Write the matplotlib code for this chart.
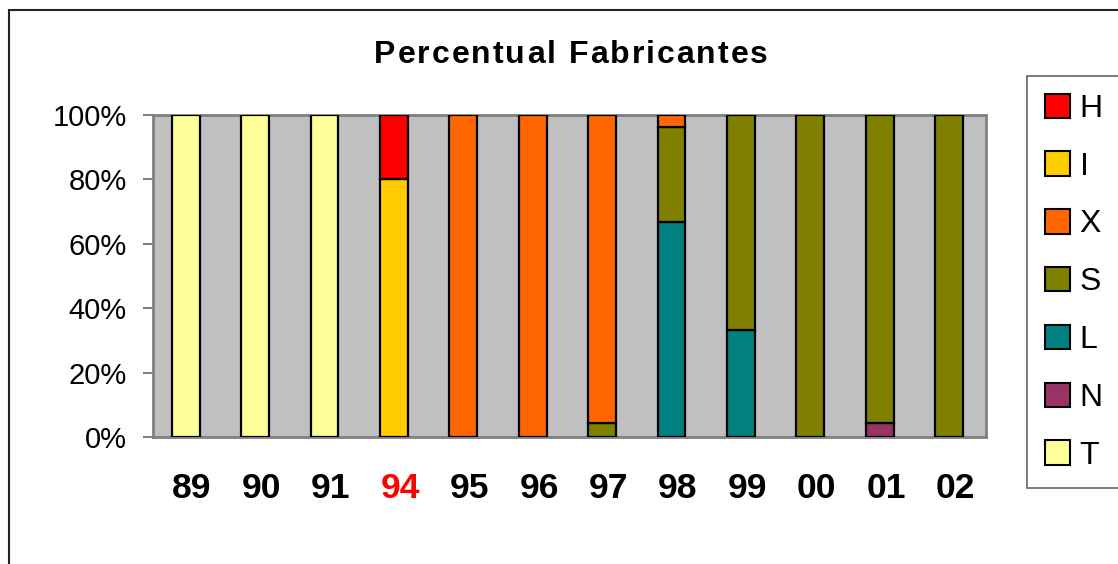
import numpy as np
import matplotlib.pyplot as plt
from matplotlib.patches import Rectangle, Patch

plt.rcParams['font.family'] = ['Liberation Sans', 'DejaVu Sans']

anos = ["89", "90", "91", "94", "95", "96", "97", "98", "99", "00", "01", "02"]

# percent share per maker, stacked bottom to top: T, N, L, S, X, I, H
T = [100, 100, 100, 0, 0, 0, 0, 0, 0, 0, 0, 0]
N = [0, 0, 0, 0, 0, 0, 0, 0, 0, 0, 4.5, 0]
L = [0, 0, 0, 0, 0, 0, 0, 66.7, 33.3, 0, 0, 0]
S = [0, 0, 0, 0, 0, 0, 4.5, 29.6, 66.7, 100, 95.5, 100]
X = [0, 0, 0, 0, 100, 100, 95.5, 3.7, 0, 0, 0, 0]
I = [0, 0, 0, 80, 0, 0, 0, 0, 0, 0, 0, 0]
H = [0, 0, 0, 20, 0, 0, 0, 0, 0, 0, 0, 0]

series = [("T", T, "#FFFF99"), ("N", N, "#993366"), ("L", L, "#008080"),
          ("S", S, "#808000"), ("X", X, "#FF6600"), ("I", I, "#FFCC00"),
          ("H", H, "#FF0000")]

titulo = "Percentual Fabricantes"

W, Hpx = 1118, 564
fig = plt.figure(figsize=(W / 100, Hpx / 100), dpi=100)

# outer chart frame
fig.patches.append(Rectangle((9 / W, -0.1), 1.2, 1 - 10 / Hpx + 0.1,
                             transform=fig.transFigure, fill=False,
                             edgecolor="#222222", linewidth=1.5))

ax = fig.add_axes([153 / W, (Hpx - 437) / Hpx, (986 - 153) / W, (437 - 115) / Hpx])
ax.set_facecolor("#C0C0C0")

x = np.arange(len(anos))
bottom = np.zeros(len(anos))
handles = []
for nome, vals, cor in series:
    vals = np.array(vals, dtype=float)
    mask = vals > 0
    ax.bar(x[mask], vals[mask], width=0.4, bottom=bottom[mask], color=cor,
           edgecolor="black", linewidth=1.6, zorder=3)
    bottom += vals
    handles.append(Patch(facecolor=cor, edgecolor="black", linewidth=1.5, label=nome))

ax.set_xlim(-0.47, len(anos) - 0.47)
ax.set_ylim(0, 100)
ax.set_yticks(range(0, 101, 20))
ax.set_yticklabels([f"{v}%" for v in range(0, 101, 20)], fontsize=21)
# category labels sit a little right of the bar centres
ax.set_xticks(x + 0.09)
ax.set_xticklabels(anos, fontsize=25.5, fontweight="bold")
ax.get_xticklabels()[3].set_color("#FF0000")
ax.tick_params(axis="x", length=0, pad=25)
ax.tick_params(axis="y", length=7, width=1.5, color="#808080", pad=12)
for sp in ax.spines.values():
    sp.set_color("#808080")
    sp.set_linewidth(2)

# title drawn letter by letter with extra tracking
renderer = fig.canvas.get_renderer()
fs_tit = 23
track = 2.0

def largura(s):
    t = fig.text(0, 0, s, fontsize=fs_tit, fontweight="bold")
    w = t.get_window_extent(renderer).width
    t.remove()
    return w

total = largura(titulo) + track * (len(titulo) - 1)
x0 = 571 - total / 2
for i, ch in enumerate(titulo):
    if ch == " ":
        continue
    esq = x0 + largura(titulo[:i + 1]) - largura(ch) + track * i
    fig.text(esq / W, 1 - 63 / Hpx, ch, fontsize=fs_tit, fontweight="bold",
             ha="left", va="baseline")

leg = fig.legend(handles=handles[::-1], loc="upper left",
                 bbox_to_anchor=(1027 / W, 1 - 76 / Hpx), fontsize=23,
                 handlelength=0.8, handleheight=0.8, handletextpad=0.3,
                 labelspacing=0.86, borderpad=0.55, borderaxespad=0,
                 frameon=True, fancybox=False)
leg.get_frame().set_edgecolor("#404040")
leg.get_frame().set_linewidth(1.2)

fig.savefig("out.png", dpi=100)
